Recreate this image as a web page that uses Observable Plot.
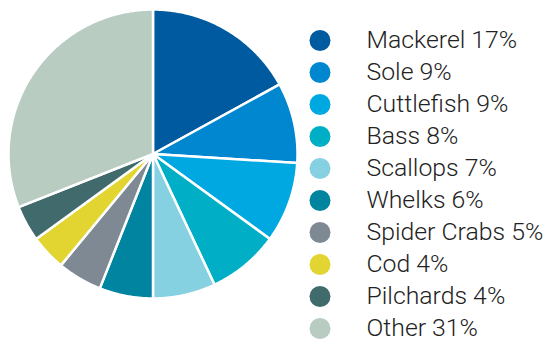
<!DOCTYPE html>
<html>
<head>
<meta charset="utf-8">
<script src="https://cdn.jsdelivr.net/npm/d3@7"></script>
<script src="https://cdn.jsdelivr.net/npm/@observablehq/plot@0.6"></script>
<style>
  html, body { margin: 0; padding: 0; background: #fff; }
  #wrap { display: flex; width: 550px; height: 345px; overflow: hidden; }
  #wrap svg { display: block; }
</style>
</head>
<body>
<div id="wrap"></div>
<script>
const names = ["Mackerel", "Sole", "Cuttlefish", "Bass", "Scallops", "Whelks", "Spider Crabs", "Cod", "Pilchards", "Other"];
const shares = [17, 9, 9, 8, 7, 6, 5, 4, 4, 31];
const colors = ["#005a9f", "#0087cf", "#00a8e2", "#00aec5", "#85d0e1", "#00849f", "#7e8994", "#e2d532", "#416a6c", "#b8ccc1"];

const rows = names.map((name, i) => ({name, share: shares[i], label: `${name} ${shares[i]}%`}));

// Pie slices computed from the shares with d3.pie, drawn as planar polygons through Plot's geo mark
const arcs = d3.pie().sort(null).value(d => d.share)(rows);
function ring(a0, a1) {
  const pts = [[0, 0]];
  const n = Math.max(2, Math.ceil((a1 - a0) / (Math.PI / 360)));
  for (let k = 0; k <= n; k++) {
    const a = a0 + (a1 - a0) * k / n;
    pts.push([Math.sin(a), -Math.cos(a)]);
  }
  pts.push([0, 0]);
  return pts;
}
const slices = arcs.map(a => ({
  type: "Feature",
  properties: {name: a.data.name},
  geometry: {type: "Polygon", coordinates: [ring(a.startAngle, a.endAngle)]}
}));
const disc = {type: "Polygon", coordinates: [ring(0, 2 * Math.PI)]};

const colorScale = {domain: names, range: colors};

const pie = Plot.plot({
  width: 306,
  height: 345,
  marginLeft: 8,
  marginRight: 9,
  marginTop: 9,
  marginBottom: 47,
  projection: {type: "identity", domain: disc},
  color: colorScale,
  marks: [
    Plot.geo(slices, {fill: d => d.properties.name, stroke: "white", strokeWidth: 2.5, strokeLinejoin: "round"})
  ]
});

const legend = Plot.plot({
  width: 244,
  height: 345,
  margin: 0,
  y: {type: "point", domain: names, range: [37.3, 331], padding: 0, axis: null},
  color: colorScale,
  style: {fontFamily: "Roboto, 'Liberation Sans', sans-serif"},
  marks: [
    Plot.dot(rows, {y: "name", fill: "name", r: 10.5, frameAnchor: "left", dx: 13.5}),
    Plot.text(rows, {y: "name", text: "label", frameAnchor: "left", dx: 60, textAnchor: "start",
      fontSize: 24.8, fontWeight: 300, fill: "#222"})
  ]
});

document.getElementById("wrap").append(pie, legend);
</script>
</body>
</html>
